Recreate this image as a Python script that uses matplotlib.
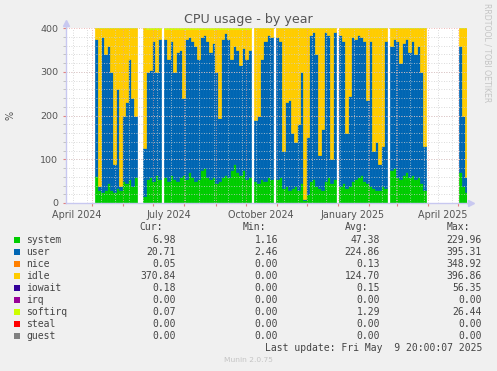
import datetime
import numpy as np
import matplotlib
matplotlib.use("Agg")
import matplotlib.pyplot as plt
import matplotlib.dates as mdates
from matplotlib.patches import Rectangle

nan = float("nan")

# samples every 3 days, first one on this date
first_day = "2024-05-03 20:00"
step_days = 3
view_start = "2024-04-04 20:00"
view_end = "2025-05-09 20:00"

system = [62, 30, 25, 30, 45, 30, 25, 35, 30, 50,
          45, 55, 40, 60, nan, nan, 15, 55, 60, 50,
          65, 55, nan, 60, 50, 65, 55, 50, 60, 65,
          55, 70, 60, 50, 55, 75, 80, 60, 55, 60,
          45, 50, 60, 65, 60, 75, 90, 70, 65, 75,
          55, 60, nan, 50, 45, 55, 50, 60, 55, nan,
          55, 60, 35, 40, 30, 35, 40, 30, 45, 8,
          20, 50, 55, 40, 35, 30, 50, 60, 45, 55,
          nan, 40, 45, 35, 40, 50, 55, 60, 65, 50,
          45, 40, 35, 30, 30, 40, 35, nan, 75, 80,
          60, 55, 65, 70, 60, 65, 55, 60, 45, 30,
          nan, nan, nan, nan, nan, nan, nan, nan, nan, nan,
          nan, 70, 40, 25]

user = [313, 10, 355, 310, 315, 270, 65, 225, 10, 150,
        185, 275, 200, 140, nan, nan, 110, 245, 245, 320,
        235, 320, nan, 315, 280, 305, 245, 295, 290, 175,
        320, 310, 310, 310, 275, 305, 305, 310, 290, 305,
        255, 145, 315, 323, 315, 255, 270, 280, 250, 280,
        275, 290, nan, 140, 155, 275, 320, 325, 325, nan,
        325, 310, 85, 190, 205, 125, 100, 150, 255, 2,
        130, 335, 335, 300, 75, 140, 340, 325, 55, 335,
        nan, 345, 325, 125, 205, 330, 320, 325, 315, 320,
        190, 330, 85, 110, 60, 90, 335, nan, 285, 295,
        310, 265, 300, 305, 285, 305, 285, 300, 255, 100,
        nan, nan, nan, nan, nan, nan, nan, nan, nan, nan,
        nan, 290, 160, 35]

idle = [24, 359, 19, 59, 39, 99, 309, 139, 359, 199,
        169, 69, 159, 199, nan, nan, 274, 98, 93, 28,
        98, 23, nan, 23, 68, 28, 98, 53, 48, 158,
        23, 18, 28, 38, 68, 18, 13, 28, 53, 33,
        98, 203, 23, 10, 23, 68, 38, 48, 83, 43,
        68, 48, nan, 209, 199, 69, 29, 14, 19, nan,
        19, 29, 279, 169, 164, 239, 259, 219, 99, 389,
        249, 14, 9, 59, 289, 229, 9, 14, 299, 9,
        nan, 14, 29, 239, 154, 19, 24, 14, 19, 29,
        164, 29, 279, 259, 309, 269, 29, nan, 39, 24,
        29, 79, 34, 24, 54, 29, 59, 39, 99, 269,
        nan, nan, nan, nan, nan, nan, nan, nan, nan, nan,
        nan, 39, 199, 339]

softirq = [1, 1, 1, 1, 1, 1, 1, 1, 1, 1,
           1, 1, 1, 1, nan, nan, 1, 2, 2, 2,
           2, 2, nan, 2, 2, 2, 2, 2, 2, 2,
           2, 2, 2, 2, 2, 2, 2, 2, 2, 2,
           2, 2, 2, 2, 2, 2, 2, 2, 2, 2,
           2, 2, nan, 1, 1, 1, 1, 1, 1, nan,
           1, 1, 1, 1, 1, 1, 1, 1, 1, 1,
           1, 1, 1, 1, 1, 1, 1, 1, 1, 1,
           nan, 1, 1, 1, 1, 1, 1, 1, 1, 1,
           1, 1, 1, 1, 1, 1, 1, nan, 1, 1,
           1, 1, 1, 1, 1, 1, 1, 1, 1, 1,
           nan, nan, nan, nan, nan, nan, nan, nan, nan, nan,
           nan, 1, 1, 1]

names = ["system", "user", "nice", "idle", "iowait", "irq", "softirq", "steal", "guest"]
colors = ["#00CC00", "#0066B3", "#FF8000", "#FFCC00", "#330099",
          "#990099", "#CCFF00", "#FF0000", "#808080"]
cur = ["6.98", "20.71", "0.05", "370.84", "0.18", "0.00", "0.07", "0.00", "0.00"]
mins = ["1.16", "2.46", "0.00", "0.00", "0.00", "0.00", "0.00", "0.00", "0.00"]
avgs = ["47.38", "224.86", "0.13", "124.70", "0.15", "0.00", "1.29", "0.00", "0.00"]
maxs = ["229.96", "395.31", "348.92", "396.86", "56.35", "0.00", "26.44", "0.00", "0.00"]

W, H = 497, 371
plt.rcParams["font.family"] = "DejaVu Sans"

fig = plt.figure(figsize=(W / 100, H / 100), dpi=100, facecolor="#f0f0f0")
ax = fig.add_axes([66 / W, 1 - 203 / H, 401 / W, 175 / H])
ax.set_facecolor("white")

x0 = mdates.datestr2num(first_day)
xs = x0 + step_days * np.arange(len(system))

layers = [(system, colors[0]), (user, colors[1]), (idle, colors[3]), (softirq, colors[6])]
bottom = np.zeros(len(xs))
for vals, c in layers:
    v = np.array(vals, dtype=float)
    ax.bar(xs, v, width=step_days, bottom=bottom, align="edge", color=c,
           edgecolor=c, linewidth=0.5, zorder=1)
    bottom = bottom + v

ax.set_xlim(mdates.datestr2num(view_start), mdates.datestr2num(view_end))
ax.set_ylim(0, 400)

# grid
major_col = "#e8a0a0"
minor_col = "#cfcfcf"
minor_days = mdates.drange(datetime.datetime(2024, 4, 12), datetime.datetime(2025, 5, 9),
                           datetime.timedelta(days=14))
ax.vlines(minor_days, 0, 400, colors=minor_col, linewidth=0.6,
          linestyles=(0, (1, 2)), zorder=3)
ax.hlines(np.arange(20, 400, 20), *ax.get_xlim(), colors=minor_col, linewidth=0.6,
          linestyles=(0, (1, 2)), zorder=3)
ax.xaxis.set_major_locator(mdates.MonthLocator())
ax.xaxis.set_major_formatter(plt.NullFormatter())
ax.xaxis.set_minor_locator(mdates.MonthLocator(bymonth=[1, 4, 7, 10], bymonthday=16))
ax.xaxis.set_minor_formatter(mdates.DateFormatter("%B %Y"))
ax.set_yticks(np.arange(0, 401, 100))
ax.set_yticks(np.arange(0, 401, 20), minor=True)
ax.grid(which="major", color=major_col, linewidth=0.6, linestyle=(0, (1, 2)), zorder=3)
ax.set_axisbelow(False)

ax.tick_params(axis="x", which="major", length=2.5, color="#e08080", direction="out")
ax.tick_params(axis="x", which="minor", length=0, pad=5, labelsize=6.9, labelcolor="#555555")
ax.tick_params(axis="y", which="major", length=2.5, color="#e08080", pad=3,
               labelsize=6.8, labelcolor="#555555")
ax.tick_params(axis="y", which="minor", length=2.5, color="#bbbbbb")

for s in ["top", "right"]:
    ax.spines[s].set_visible(False)
for s in ["left", "bottom"]:
    ax.spines[s].set_color("#c8c8f0")
    ax.spines[s].set_linewidth(1)
    ax.spines[s].set_zorder(4)
ax.plot([0, 0], [1, 1.03], transform=ax.transAxes, color="#c8c8f0", lw=1, clip_on=False)
ax.plot([1, 1.01], [0, 0], transform=ax.transAxes, color="#c8c8f0", lw=1, clip_on=False)
ax.plot(0, 1.03, "^", transform=ax.transAxes, color="#c8c8f0", ms=4, clip_on=False)
ax.plot(1.01, 0, ">", transform=ax.transAxes, color="#c8c8f0", ms=4, clip_on=False)

ax.set_ylabel("%", fontsize=7, color="#555555", labelpad=18)

fig.text(248 / W, 1 - 19 / H, "CPU usage - by year", ha="center", va="center",
         fontsize=9.1, color="#555555")
fig.text(487.5 / W, 1 - 53 / H, "RRDTOOL / TOBI OETIKER", rotation=270,
         ha="center", va="center", fontsize=5.6, color="#c4c4c4")

# legend table
mono = "DejaVu Sans Mono"
tc = "#444444"
hy = 1 - 227 / H
for label, xr in [("Cur:", 163), ("Min:", 266), ("Avg:", 368), ("Max:", 470)]:
    fig.text(xr / W, hy, label, ha="right", va="center", family=mono, fontsize=7, color=tc)
for k, name in enumerate(names):
    y = 239.7 + 12.04 * k
    fy = 1 - y / H
    fig.add_artist(Rectangle((14 / W, 1 - (y + 3) / H), 6 / W, 6 / H,
                             transform=fig.transFigure, color=colors[k], lw=0))
    fig.text(26.5 / W, fy, name, ha="left", va="center", family=mono, fontsize=7, color=tc)
    for col, xr in [(cur, 176), (mins, 278), (avgs, 380), (maxs, 482)]:
        fig.text(xr / W, fy, col[k], ha="right", va="center", family=mono, fontsize=7, color=tc)

fig.text(482 / W, 1 - 347.7 / H, "Last update: Fri May  9 20:00:07 2025", ha="right",
         va="center", family=mono, fontsize=7, color=tc)
fig.text(248 / W, 1 - 360 / H, "Munin 2.0.75", ha="center", va="center",
         fontsize=5.4, color="#c4c4c4")

fig.savefig("out.png", dpi=100, facecolor=fig.get_facecolor())
